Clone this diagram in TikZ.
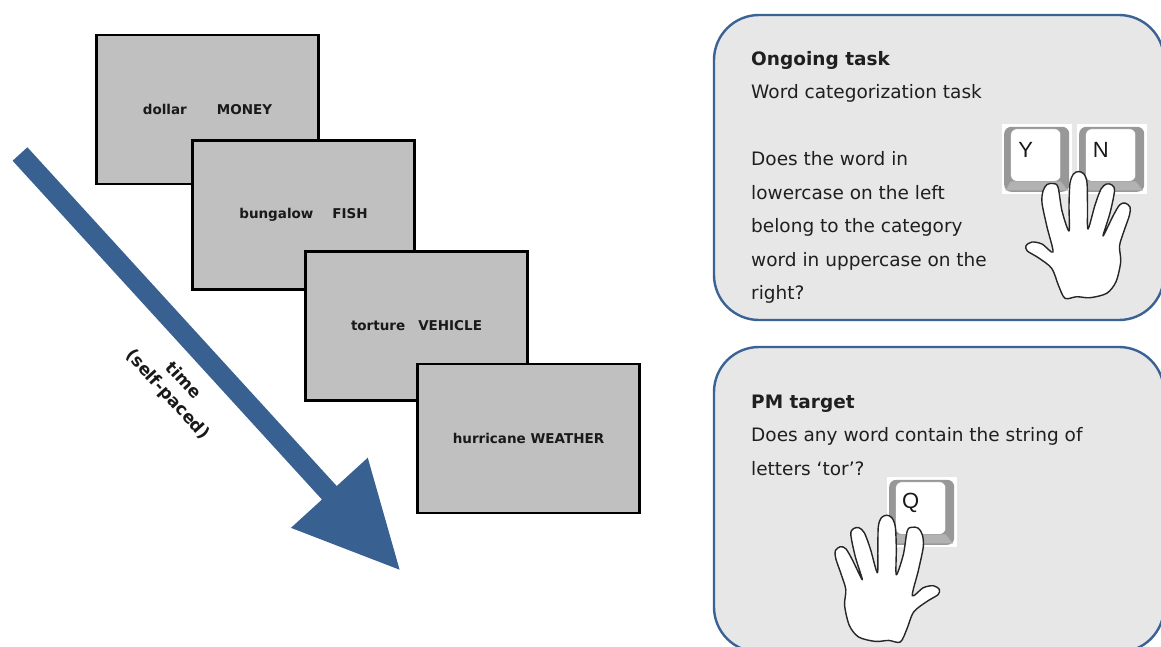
\documentclass[tikz,border=0pt]{standalone}
\usepackage{fontspec}
\setmainfont{DejaVu Sans}
\newfontfamily\keyfont{Liberation Sans}
\usetikzlibrary{calc}

\definecolor{slidegray}{RGB}{192,192,192}
\definecolor{panelfill}{RGB}{231,231,231}
\definecolor{panelblue}{RGB}{58,98,148}
\definecolor{arrowblue}{RGB}{56,97,146}
\definecolor{keygray}{RGB}{152,152,152}
\definecolor{keybevel}{RGB}{178,178,178}

\begin{document}
\begin{tikzpicture}[x=1pt,y=-1pt,
  slide/.style={draw=black, line width=2.6pt, fill=slidegray,
    minimum width=222pt, minimum height=149pt, inner sep=0pt,
    font=\fontsize{13.5}{16}\selectfont\bfseries, text=black!90},
  panel/.style={draw=panelblue, line width=2.4pt, fill=panelfill, rounded corners=45pt},
  % anchored at the baseline of the last line
  paneltext/.style={anchor=base west, align=left, inner sep=0pt,
    font=\fontsize{18.5}{33.5}\selectfont, text=black!88},
  timetext/.style={rotate=-47.6, align=center, inner sep=0pt,
    font=\fontsize{17}{21}\selectfont\bfseries, text=black!90},
  handline/.style={draw=black!85, line width=1.4pt, fill=white, line join=round},
  keyletter/.style={font=\keyfont\fontsize{22}{22}\selectfont, inner sep=0pt, text=black!90},
  % open hand, thumb on the left; origin is the top left of its frame
  hand/.pic={
    \path[handline] plot[smooth cycle, tension=0.5] coordinates {
      (36,130.7) (42,127) (52,129) (63,137) (57,112) (52,88) (53,76)
      (57,69.5) (63,68.5) (68,72) (72,96) (79,116) (79,90) (80,68)
      (83.5,59) (88.5,56.5) (94,59) (97,68) (97.5,92) (98,114) (105,90)
      (111,74) (116.5,69) (122,70) (124.5,76) (120,98) (113,121)
      (123,101) (129.5,90) (135,88) (140,92) (139.5,100) (134,116)
      (129.5,131) (130.7,146.7) (126,166.7) (116.7,178.3) (100,182.7)
      (86.7,181.7) (75,183.3) (68.3,170) (61.7,153.3) (48.3,142.7)
      (37.3,136)};
  },
  % keyboard key with a letter; origin is the top left of its white square
  keycap/.pic={
    \fill[white] (0,0) rectangle (70,70);
    \fill[keygray, rounded corners=7pt] (2.5,2.5) rectangle (67.5,67.5);
    \fill[keybevel] (9,57) -- (59,57) -- (66,66) -- (4,66) -- cycle;
    \draw[black!35, line width=0.6pt] (9,57) -- (4,66) (59,57) -- (66,66);
    \fill[white, rounded corners=6pt] (9,4.5) rectangle (59,57);
    \draw[black!40, line width=0.5pt, rounded corners=6pt] (9,4.5) rectangle (59,57);
    \node[keyletter] (-label) at (24,26) {#1};
  }
]
\useasboundingbox (0,0) rectangle (1161,646);
\clip (0,0) rectangle (1161,646);
\fill[white] (0,0) rectangle (1161,646);

% time arrow
\begin{scope}[shift={(20,154)}, rotate=-47.6]
  \fill[arrowblue] (0,-10) -- (458.8,-10) -- (458.8,-52) -- (563,0)
    -- (458.8,52) -- (458.8,10) -- (0,10) -- cycle;
\end{scope}
\node[timetext] (timelabel) at (175,388) {time\\(self-paced)};

% stacked trial screens
\node[slide] (s1) at (207.5,109.5) {dollar\hspace{30pt}MONEY};
\node[slide] (s2) at (303.5,215) {bungalow\hspace{19pt}FISH};
\node[slide] (s3) at (416.5,326) {torture\hspace{13pt}VEHICLE};
\node[slide] (s4) at (528.5,438.5) {hurricane WEATHER};

% ongoing task panel
\path[panel] (714,15) rectangle (1164,320);
\node[paneltext] (ongoing) at (751,299.5) {\textbf{Ongoing task}\\Word categorization task\\[33.5pt]Does the word in\\lowercase on the left\\belong to the category\\word in uppercase on the\\right?};
\pic (ykey) at (1001.7,124.3) {keycap=Y};
\pic (nkey) at (1076.7,124.3) {keycap=N};
\pic (ohand) at (990,115) {hand};

% PM target panel
\path[panel] (714,347) rectangle (1164,652);
\node[paneltext] (pmtarget) at (751,475) {\textbf{PM target}\\Does any word contain the string of\\letters ‘tor’?};
\pic (qkey) at (886.7,477.3) {keycap=Q};
\pic[xscale=-1] (pmhand) at (975.3,458.7) {hand};
\end{tikzpicture}
\end{document}
